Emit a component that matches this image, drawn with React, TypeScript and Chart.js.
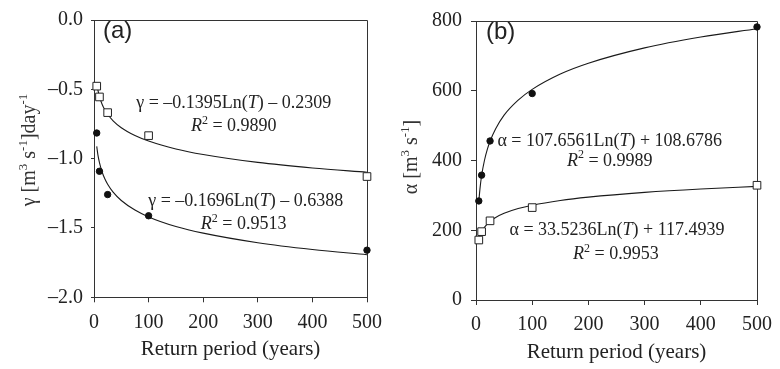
import React, { useEffect, useRef } from 'react';
import { Chart, registerables } from 'chart.js';

Chart.register(...registerables);

// ---- data ----
const RETURN_PERIODS = [5, 10, 25, 100, 500];
const GAMMA_SQUARE = [-0.477, -0.555, -0.668, -0.834, -1.129];
const GAMMA_CIRCLE = [-0.815, -1.091, -1.259, -1.412, -1.66];
const ALPHA_CIRCLE = [284, 358, 456, 592, 783];
const ALPHA_SQUARE = [172, 196, 227, 265, 329];

// fitted (logarithmic trend) curves
const CURVE_T = [5, 7, 10, 15, 20, 25, 35, 50, 75, 100, 150, 200, 300, 400, 500];
const GAMMA_SQUARE_FIT = [-0.455, -0.502, -0.552, -0.609, -0.649, -0.68, -0.727, -0.777, -0.833, -0.873, -0.93, -0.97, -1.027, -1.067, -1.098];
const GAMMA_CIRCLE_FIT = [-0.912, -0.969, -1.029, -1.098, -1.147, -1.185, -1.242, -1.302, -1.371, -1.42, -1.489, -1.537, -1.606, -1.655, -1.693];
const ALPHA_CIRCLE_FIT = [282, 318, 357, 400, 431, 455, 491, 530, 573, 604, 648, 679, 723, 754, 778];
const ALPHA_SQUARE_FIT = [171.5, 182.7, 194.7, 208.3, 217.9, 225.4, 236.7, 248.6, 262.2, 271.9, 285.5, 295.1, 308.7, 318.4, 325.8];

const X_TICKS = [0, 100, 200, 300, 400, 500];
const GAMMA_TICKS = [0, -0.5, -1, -1.5, -2];
const ALPHA_TICKS = [0, 200, 400, 600, 800];

const X_TITLE = 'Return period (years)';

type Part = { t: string; i?: boolean; sup?: boolean };

const GAMMA_TITLE: Part[] = [{ t: 'γ [m' }, { t: '3', sup: true }, { t: ' s' }, { t: '-1', sup: true }, { t: ']day' }, { t: '-1', sup: true }];
const ALPHA_TITLE: Part[] = [{ t: 'α [m' }, { t: '3', sup: true }, { t: ' s' }, { t: '-1', sup: true }, { t: ']' }];

const eq = (sym: string, a: string, op: string, b: string): Part[] => [
  { t: `${sym} = ${a}Ln(` },
  { t: 'T', i: true },
  { t: `) ${op} ${b}` },
];
const r2 = (v: string): Part[] => [{ t: 'R', i: true }, { t: '2', sup: true }, { t: ` = ${v}` }];

const SERIF = '"Liberation Serif", "Times New Roman", serif';
const SANS = '"Liberation Sans", Arial, sans-serif';
const INK = '#222';
const AXIS = '#333';

function drawRich(ctx: CanvasRenderingContext2D, parts: Part[], cx: number, baseline: number, size: number) {
  const fontFor = (p: Part) => `${p.i ? 'italic ' : ''}${p.sup ? Math.round(size * 0.66) : size}px ${SERIF}`;
  let w = 0;
  for (const p of parts) {
    ctx.font = fontFor(p);
    w += ctx.measureText(p.t).width;
  }
  let x = cx - w / 2;
  ctx.textAlign = 'left';
  ctx.textBaseline = 'alphabetic';
  for (const p of parts) {
    ctx.font = fontFor(p);
    ctx.fillText(p.t, x, p.sup ? baseline - size * 0.4 : baseline);
    x += ctx.measureText(p.t).width;
  }
}

type PanelSpec = {
  label: string;
  labelPos: [number, number];
  yTitle: Part[];
  yTitlePos: [number, number];
  yMin: number;
  yMax: number;
  yTicks: number[];
  yFmt: (v: number) => string;
  yTickLen: number;
  yTickPad: number;
  axisWidth: number;
  axisHeight: number;
  padRight: number;
  xTitlePad: number;
  squares: number[];
  circles: number[];
  squareFit: number[];
  circleFit: number[];
  notes: { parts: Part[]; x: number; y: number }[];
};

const PANEL_A: PanelSpec = {
  label: '(a)',
  labelPos: [103, 31.5],
  yTitle: GAMMA_TITLE,
  yTitlePos: [35, 150],
  yMin: -2,
  yMax: 0,
  yTicks: GAMMA_TICKS,
  yFmt: (v) => (v === 0 ? '0.0' : '–' + Math.abs(v).toFixed(1)),
  yTickLen: 3,
  yTickPad: 8,
  axisWidth: 94,
  axisHeight: 71.7,
  padRight: 20.7,
  xTitlePad: 7,
  squares: GAMMA_SQUARE,
  circles: GAMMA_CIRCLE,
  squareFit: GAMMA_SQUARE_FIT,
  circleFit: GAMMA_CIRCLE_FIT,
  notes: [
    { parts: eq('γ', '–0.1395', '–', '0.2309'), x: 256, y: -0.638 },
    { parts: r2('0.9890'), x: 256, y: -0.804 },
    { parts: eq('γ', '–0.1696', '–', '0.6388'), x: 278, y: -1.339 },
    { parts: r2('0.9513'), x: 274, y: -1.509 },
  ],
};

const PANEL_B: PanelSpec = {
  label: '(b)',
  labelPos: [96, 32],
  yTitle: ALPHA_TITLE,
  yTitlePos: [27, 157],
  yMin: 0,
  yMax: 800,
  yTicks: ALPHA_TICKS,
  yFmt: (v) => String(v),
  yTickLen: 5,
  yTickPad: 9,
  axisWidth: 86,
  axisHeight: 69,
  padRight: 17.3,
  xTitlePad: 4,
  squares: ALPHA_SQUARE,
  circles: ALPHA_CIRCLE,
  squareFit: ALPHA_SQUARE_FIT,
  circleFit: ALPHA_CIRCLE_FIT,
  notes: [
    { parts: eq('α', '107.6561', '+', '108.6786'), x: 238, y: 440.7 },
    { parts: r2('0.9989'), x: 238, y: 385.4 },
    { parts: eq('α', '33.5236', '+', '117.4939'), x: 251, y: 187.2 },
    { parts: r2('0.9953'), x: 249, y: 117 },
  ],
};

function makeConfig(spec: PanelSpec): any {
  const pts = (ys: number[], xs: number[]) => xs.map((x, i) => ({ x, y: ys[i] }));

  const framePlugin = {
    id: 'frame',
    beforeDatasetsDraw(chart: any) {
      const { ctx, chartArea: a } = chart;
      const top = Math.round(a.top) + 0.5;
      const right = Math.round(a.right) + 0.5;
      ctx.save();
      ctx.strokeStyle = AXIS;
      ctx.lineWidth = 1;
      ctx.beginPath();
      ctx.moveTo(a.left, top);
      ctx.lineTo(right, top);
      ctx.lineTo(right, a.bottom);
      ctx.stroke();
      ctx.restore();
    },
  };

  const textPlugin = {
    id: 'texts',
    afterDatasetsDraw(chart: any) {
      const { ctx } = chart;
      const xs = chart.scales.x;
      const ys = chart.scales.y;
      ctx.save();
      ctx.fillStyle = INK;
      for (const n of spec.notes) {
        drawRich(ctx, n.parts, xs.getPixelForValue(n.x), ys.getPixelForValue(n.y), 18);
      }
      // panel label
      ctx.font = `24px ${SANS}`;
      ctx.textAlign = 'left';
      ctx.textBaseline = 'middle';
      ctx.fillText(spec.label, spec.labelPos[0], spec.labelPos[1]);
      // y title (rotated)
      ctx.translate(spec.yTitlePos[0], spec.yTitlePos[1]);
      ctx.rotate(-Math.PI / 2);
      ctx.fillStyle = AXIS;
      drawRich(ctx, spec.yTitle, 0, 0, 20);
      ctx.restore();
    },
  };

  return {
    type: 'scatter',
    data: {
      datasets: [
        {
          data: pts(spec.circles, RETURN_PERIODS),
          pointStyle: 'circle',
          pointRadius: 3.2,
          pointBackgroundColor: '#111',
          pointBorderColor: '#111',
          pointBorderWidth: 1,
          showLine: false,
          clip: false,
        },
        {
          data: pts(spec.squares, RETURN_PERIODS),
          pointStyle: 'rect',
          pointRadius: 5.4,
          pointBackgroundColor: '#fff',
          pointBorderColor: '#222',
          pointBorderWidth: 1,
          showLine: false,
          clip: false,
        },
        {
          data: pts(spec.circleFit, CURVE_T),
          showLine: true,
          pointRadius: 0,
          borderColor: '#1a1a1a',
          borderWidth: 1.1,
          cubicInterpolationMode: 'monotone',
          clip: false,
        },
        {
          data: pts(spec.squareFit, CURVE_T),
          showLine: true,
          pointRadius: 0,
          borderColor: '#1a1a1a',
          borderWidth: 1.1,
          cubicInterpolationMode: 'monotone',
          clip: false,
        },
      ],
    },
    options: {
      responsive: false,
      animation: false,
      devicePixelRatio: 1,
      layout: { padding: { left: 0, top: 15, right: spec.padRight, bottom: 0 } },
      plugins: { legend: { display: false }, tooltip: { enabled: false }, title: { display: false } },
      events: [],
      scales: {
        x: {
          type: 'linear',
          min: 0,
          max: 500,
          afterBuildTicks: (s: any) => {
            s.ticks = X_TICKS.map((v) => ({ value: v }));
          },
          afterFit: (s: any) => {
            s.height = spec.axisHeight;
          },
          ticks: {
            color: INK,
            font: { family: SERIF, size: 20 },
            padding: 8,
            maxRotation: 0,
            callback: (v: any) => String(v),
          },
          grid: { display: true, drawOnChartArea: false, drawTicks: true, tickLength: 5, tickColor: AXIS },
          border: { display: true, color: AXIS, width: 1 },
          title: {
            display: true,
            text: X_TITLE,
            color: INK,
            font: { family: SERIF, size: 21 },
            padding: { top: 0, bottom: spec.xTitlePad },
          },
        },
        y: {
          type: 'linear',
          min: spec.yMin,
          max: spec.yMax,
          afterBuildTicks: (s: any) => {
            s.ticks = spec.yTicks.map((v) => ({ value: v }));
          },
          afterFit: (s: any) => {
            s.width = spec.axisWidth;
          },
          ticks: {
            color: INK,
            font: { family: SERIF, size: 20 },
            padding: spec.yTickPad,
            callback: (v: any) => spec.yFmt(Number(v)),
          },
          grid: { display: true, drawOnChartArea: false, drawTicks: true, tickLength: spec.yTickLen, tickColor: AXIS },
          border: { display: true, color: AXIS, width: 1 },
          title: { display: false },
        },
      },
    },
    plugins: [framePlugin, textPlugin],
  };
}

function Panel({ spec, left }: { spec: PanelSpec; left: number }) {
  const ref = useRef<HTMLCanvasElement | null>(null);
  useEffect(() => {
    if (!ref.current) return;
    const chart = new Chart(ref.current, makeConfig(spec));
    return () => chart.destroy();
  }, [spec]);
  return (
    <canvas
      ref={ref}
      width={390}
      height={369}
      style={{ position: 'absolute', left, top: 0, width: 390, height: 369 }}
    />
  );
}

export default function App() {
  return (
    <div style={{ position: 'fixed', left: 0, top: 0, width: 780, height: 369, background: '#fff', overflow: 'hidden' }}>
      <Panel spec={PANEL_A} left={0} />
      <Panel spec={PANEL_B} left={390} />
    </div>
  );
}
